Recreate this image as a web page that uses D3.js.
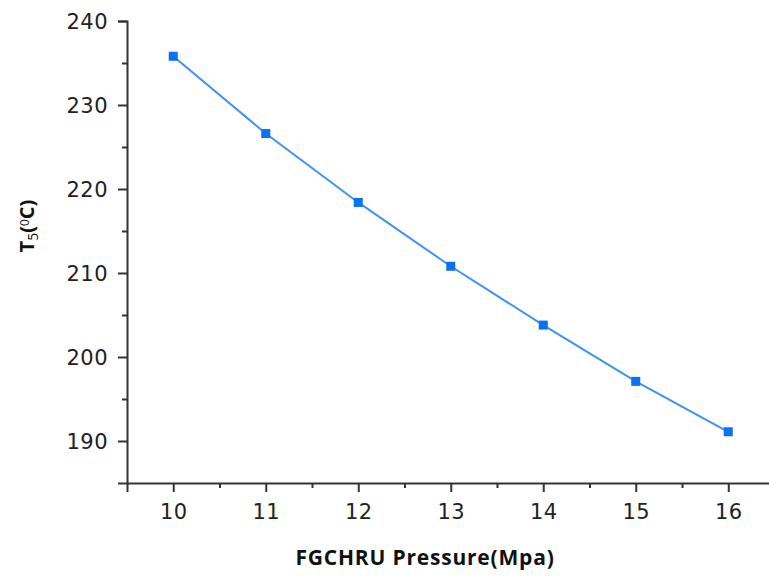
<!DOCTYPE html>
<html>
<head>
<meta charset="utf-8">
<script src="https://cdn.jsdelivr.net/npm/d3@7"></script>
<style>
  html, body { margin: 0; padding: 0; background: #fff; }
  svg { display: block; }
</style>
</head>
<body>
<script>
const pressures = [10, 11, 12, 13, 14, 15, 16];
const temperatures = [235.8, 226.6, 218.4, 210.8, 203.8, 197.1, 191.1];
const xTicks = [10, 11, 12, 13, 14, 15, 16];
const xMinorTicks = [10.5, 11.5, 12.5, 13.5, 14.5, 15.5, 16.5];
const yTicks = [190, 200, 210, 220, 230, 240];
const yMinorTicks = [195, 205, 215, 225, 235];
const xTitle = "FGCHRU Pressure(Mpa)";

const W = 769, H = 578;
const svg = d3.select("body").append("svg").attr("width", W).attr("height", H);

const x = d3.scaleLinear().domain([9.5, 16.5]).range([127, 774.5]);
const y = d3.scaleLinear().domain([185, 240]).range([483, 21]);

const axisColor = "#333";
const fontTick = "'DejaVu Sans', sans-serif";

const gx = svg.append("g").attr("transform", `translate(0,${y(185)})`);
gx.call(d3.axisBottom(x).tickValues(xTicks).tickSize(9).tickFormat(d3.format("d")));
const gxm = gx.append("g").call(d3.axisBottom(x).tickValues(xMinorTicks).tickSize(5).tickFormat(""));
gxm.select(".domain").remove();

const gy = svg.append("g").attr("transform", `translate(${x(9.5)},0)`);
gy.call(d3.axisLeft(y).tickValues(yTicks).tickSize(9).tickFormat(d3.format("d")));
const gym = gy.append("g").call(d3.axisLeft(y).tickValues(yMinorTicks).tickSize(5).tickFormat(""));
gym.select(".domain").remove();

svg.selectAll(".domain").attr("stroke", axisColor).attr("stroke-width", 2);
svg.selectAll(".tick line").attr("stroke", axisColor).attr("stroke-width", 2);
svg.selectAll(".tick text").attr("fill", "#222")
  .style("font-family", fontTick).style("font-size", "21px").style("letter-spacing", "0.5px");
gx.selectAll(".tick text").attr("y", 12).attr("dy", "1.15em");
gy.selectAll(".tick text").attr("x", -19).attr("dy", "0.36em");

// line
const line = d3.line().x((d, i) => x(pressures[i])).y(d => y(d));
svg.append("path").datum(temperatures)
  .attr("d", line)
  .attr("fill", "none")
  .attr("stroke", "#3f93f2")
  .attr("stroke-width", 2);

svg.selectAll("rect.pt").data(temperatures).enter().append("rect")
  .attr("class", "pt")
  .attr("x", (d, i) => x(pressures[i]) - 4.5)
  .attr("y", d => y(d) - 4.5)
  .attr("width", 9).attr("height", 9)
  .attr("fill", "#0a72f2");

// y title
const yt = svg.append("text")
  .attr("transform", `translate(34,226) rotate(-90)`)
  .attr("text-anchor", "middle")
  .style("font-family", "'Open Sans', sans-serif")
  .style("font-weight", "bold")
  .style("font-size", "20px")
  .attr("fill", "#111");
yt.append("tspan").text("T");
yt.append("tspan").attr("baseline-shift", "-25%").style("font-size", "14px").style("font-weight", "normal").text("5");
yt.append("tspan").text("(");
yt.append("tspan").attr("baseline-shift", "45%").style("font-size", "12px").style("font-weight", "normal").text("0");
yt.append("tspan").text("C)");

// x title
svg.append("text")
  .attr("x", 425).attr("y", 565)
  .attr("text-anchor", "middle")
  .style("font-family", "'Open Sans', sans-serif")
  .style("font-weight", "bold")
  .style("font-size", "21px")
  .style("letter-spacing", "0.8px")
  .attr("fill", "#111")
  .text(xTitle);
</script>
</body>
</html>
